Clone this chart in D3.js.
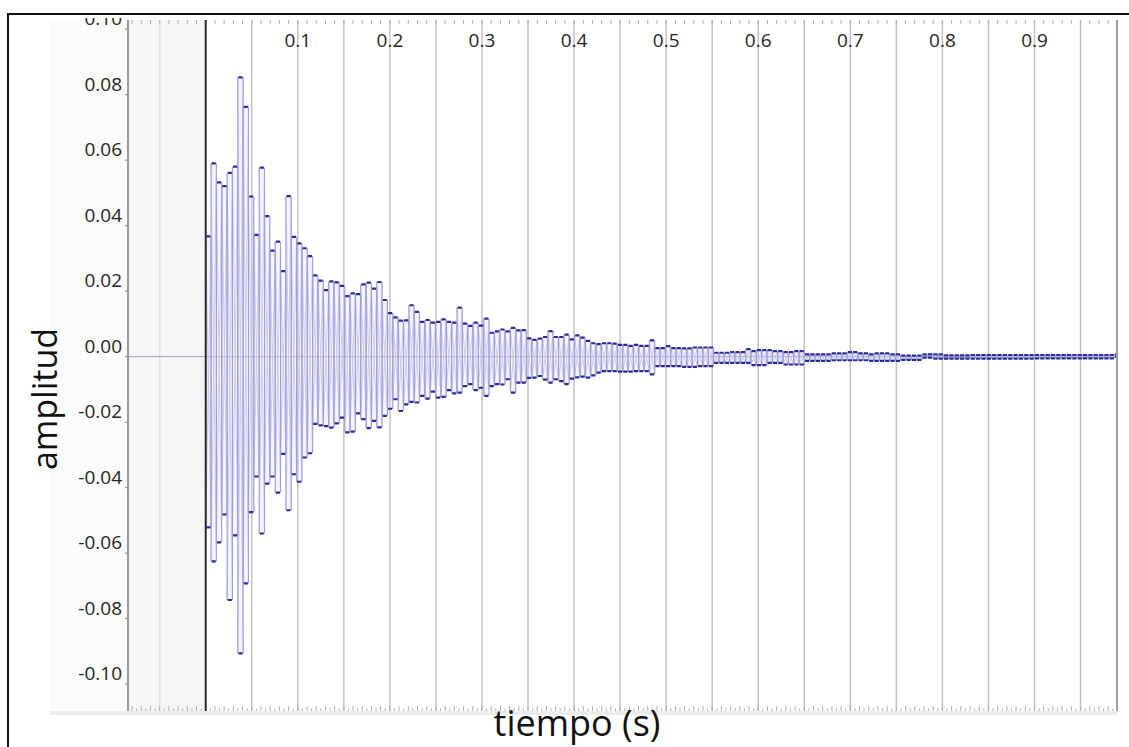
<!DOCTYPE html>
<html>
<head>
<meta charset="utf-8">
<script src="https://cdn.jsdelivr.net/npm/d3@7"></script>
<style>
  html, body { margin: 0; padding: 0; background: #fff; }
  svg { display: block; }
  text { font-family: "Open Sans", "Noto Sans", sans-serif; }
</style>
</head>
<body>
<svg id="chart" width="1129" height="747"></svg>
<script>
// Waveform summary: one bin = 256 samples at 44.1 kHz, max and min per bin.
const binDuration = 256 / 44100;

const binMax = [
  0.0367, 0.0590, 0.0532, 0.0521, 0.0561, 0.0580, 0.0853, 0.0763, 0.0489, 0.0372,
  0.0577, 0.0429, 0.0324, 0.0351, 0.0261, 0.0490, 0.0366, 0.0346, 0.0331, 0.0307,
  0.0248, 0.0232, 0.0203, 0.0230, 0.0227, 0.0216, 0.0185, 0.0193, 0.0191, 0.0221,
  0.0226, 0.0208, 0.0228, 0.0173, 0.0133, 0.0120, 0.0110, 0.0111, 0.0157, 0.0137,
  0.0106, 0.0112, 0.0104, 0.0106, 0.0114, 0.0106, 0.0104, 0.0150, 0.0101, 0.0094,
  0.0104, 0.0095, 0.0116, 0.0073, 0.0077, 0.0083, 0.0077, 0.0088, 0.0080, 0.0081,
  0.0056, 0.0051, 0.0055, 0.0060, 0.0078, 0.0060, 0.0060, 0.0067, 0.0053, 0.0065,
  0.0058, 0.0048, 0.0041, 0.0038, 0.0041, 0.0041, 0.0040, 0.0036, 0.0036, 0.0033,
  0.0036, 0.0033, 0.0033, 0.0050, 0.0026, 0.0026, 0.0032, 0.0026, 0.0026, 0.0025,
  0.0025, 0.0028, 0.0028, 0.0028, 0.0028, 0.0012, 0.0012, 0.0012, 0.0014, 0.0014,
  0.0014, 0.0023, 0.0017, 0.0020, 0.0020, 0.0020, 0.0017, 0.0017, 0.0014, 0.0014,
  0.0017, 0.0017, 0.0007, 0.0007, 0.0007, 0.0007, 0.0007, 0.0010, 0.0010, 0.0010,
  0.0014, 0.0014, 0.0010, 0.0010, 0.0007, 0.0010, 0.0010, 0.0010, 0.0007, 0.0007,
  0.0003, 0.0003, 0.0003, 0.0003, 0.0007, 0.0007, 0.0007, 0.0007, 0.0004, 0.0004,
  0.0004, 0.0004, 0.0004, 0.0005, 0.0005, 0.0005, 0.0005, 0.0005, 0.0005, 0.0005,
  0.0005, 0.0005, 0.0005, 0.0005, 0.0005, 0.0005, 0.0005, 0.0005, 0.0005, 0.0005,
  0.0005, 0.0005, 0.0005, 0.0005, 0.0005, 0.0005, 0.0005, 0.0005, 0.0005, 0.0005,
  0.0007
];

const binMin = [
  -0.0521, -0.0625, -0.0567, -0.0482, -0.0743, -0.0546, -0.0906, -0.0692, -0.0475, -0.0366,
  -0.0540, -0.0388, -0.0366, -0.0415, -0.0297, -0.0469, -0.0359, -0.0382, -0.0308, -0.0295,
  -0.0205, -0.0210, -0.0212, -0.0217, -0.0204, -0.0186, -0.0231, -0.0229, -0.0173, -0.0191,
  -0.0218, -0.0196, -0.0216, -0.0181, -0.0159, -0.0130, -0.0166, -0.0146, -0.0138, -0.0140,
  -0.0120, -0.0128, -0.0107, -0.0125, -0.0123, -0.0102, -0.0112, -0.0110, -0.0090, -0.0084,
  -0.0102, -0.0095, -0.0120, -0.0090, -0.0084, -0.0085, -0.0069, -0.0110, -0.0079, -0.0079,
  -0.0065, -0.0064, -0.0059, -0.0070, -0.0079, -0.0069, -0.0075, -0.0084, -0.0067, -0.0063,
  -0.0061, -0.0064, -0.0057, -0.0049, -0.0044, -0.0044, -0.0044, -0.0046, -0.0046, -0.0046,
  -0.0044, -0.0044, -0.0044, -0.0054, -0.0029, -0.0029, -0.0029, -0.0029, -0.0029, -0.0031,
  -0.0031, -0.0031, -0.0029, -0.0029, -0.0029, -0.0019, -0.0019, -0.0019, -0.0019, -0.0019,
  -0.0019, -0.0019, -0.0026, -0.0026, -0.0026, -0.0019, -0.0019, -0.0019, -0.0024, -0.0024,
  -0.0024, -0.0024, -0.0013, -0.0013, -0.0013, -0.0013, -0.0013, -0.0011, -0.0011, -0.0011,
  -0.0011, -0.0011, -0.0011, -0.0011, -0.0013, -0.0013, -0.0013, -0.0013, -0.0013, -0.0013,
  -0.0010, -0.0010, -0.0010, -0.0010, -0.0003, -0.0003, -0.0006, -0.0006, -0.0006, -0.0006,
  -0.0006, -0.0006, -0.0006, -0.0006, -0.0006, -0.0006, -0.0006, -0.0006, -0.0006, -0.0006,
  -0.0006, -0.0006, -0.0006, -0.0006, -0.0006, -0.0005, -0.0005, -0.0005, -0.0005, -0.0005,
  -0.0005, -0.0005, -0.0005, -0.0005, -0.0005, -0.0005, -0.0005, -0.0005, -0.0005, -0.0005,
  -0.0001
];

const amplitudeTicks = [-0.10, -0.08, -0.06, -0.04, -0.02, 0.00, 0.02, 0.04, 0.06, 0.08, 0.10];
const timeLabels = [0.1, 0.2, 0.3, 0.4, 0.5, 0.6, 0.7, 0.8, 0.9];

const bins = binMax.map((hi, i) => ({ t0: i * binDuration, t1: (i + 1) * binDuration, hi, lo: binMin[i] }));

const svg = d3.select("#chart");
const plot = { left: 128, right: 1117, top: 20, bottom: 711 };

const x = d3.scaleLinear().domain([-0.0844, 0.9896]).range([plot.left, plot.right]);
const y = d3.scaleLinear().domain([-0.1082, 0.1028]).range([plot.bottom, plot.top]);

// panel backgrounds
svg.append("rect").attr("x", 50).attr("y", plot.top).attr("width", plot.left - 50)
  .attr("height", plot.bottom - plot.top).attr("fill", "#fbfbfb");
svg.append("rect").attr("x", plot.left).attr("y", plot.top).attr("width", x(0) - plot.left)
  .attr("height", plot.bottom - plot.top).attr("fill", "#f6f6f6");
svg.append("rect").attr("x", 50).attr("y", plot.bottom).attr("width", plot.right - 50)
  .attr("height", 4).attr("fill", "#ececec");

const defs = svg.append("defs");
defs.append("clipPath").attr("id", "plotClip")
  .append("rect").attr("x", plot.left).attr("y", plot.top)
  .attr("width", plot.right - plot.left).attr("height", plot.bottom - plot.top);
defs.append("clipPath").attr("id", "labelClip")
  .append("rect").attr("x", 0).attr("y", 18).attr("width", 1129).attr("height", 729);

// vertical grid every 0.05 s
const gridTimes = d3.range(-1, 20).map(k => k * 0.05).filter(t => Math.abs(t) > 1e-9 && t < 0.98);
svg.append("g").selectAll("line").data(gridTimes).join("line")
  .attr("x1", d => x(d)).attr("x2", d => x(d))
  .attr("y1", plot.top).attr("y2", plot.bottom)
  .attr("stroke", d => d < 0 ? "#e0e0e0" : "#c2c2c2").attr("stroke-width", 1.5);

// minor ticks: top every 0.01, bottom every 0.005
const topTicks = d3.range(-8, 99).map(k => k / 100);
svg.append("g").selectAll("line").data(topTicks).join("line")
  .attr("x1", d => x(d)).attr("x2", d => x(d))
  .attr("y1", plot.top).attr("y2", plot.top + 4)
  .attr("stroke", "#b0b0b0").attr("stroke-width", 1);
const bottomTicks = d3.range(-16, 198).map(k => k / 200);
svg.append("g").selectAll("line").data(bottomTicks).join("line")
  .attr("x1", d => x(d)).attr("x2", d => x(d))
  .attr("y1", plot.bottom)
  .attr("y2", (d, i) => plot.bottom - ((i % 2 === 0) ? 5 : 2.5))
  .attr("stroke", "#b0b0b0").attr("stroke-width", 1);

// zero amplitude line
svg.append("line").attr("x1", plot.left).attr("x2", plot.right)
  .attr("y1", y(0)).attr("y2", y(0))
  .attr("stroke", "#9a9ad4").attr("stroke-width", 1);

// waveform bins: light body, crossing strokes inside, side strokes, dark max/min caps
const wave = svg.append("g").attr("clip-path", "url(#plotClip)");
wave.selectAll("rect.body").data(bins).join("rect").attr("class", "body")
  .attr("x", d => x(d.t0)).attr("width", d => x(d.t1) - x(d.t0))
  .attr("y", d => y(d.hi)).attr("height", d => y(d.lo) - y(d.hi))
  .attr("fill", "#dadaf3").attr("fill-opacity", 0.3);
wave.selectAll("path.cross").data(bins).join("path").attr("class", "cross")
  .attr("d", d => `M${x(d.t0)},${y(d.hi)}L${x(d.t1)},${y(d.lo)}M${x(d.t0)},${y(d.lo)}L${x(d.t1)},${y(d.hi)}`)
  .attr("fill", "none").attr("stroke", "#c3c3ea").attr("stroke-width", 0.8);
wave.selectAll("path.side").data(bins).join("path").attr("class", "side")
  .attr("d", d => `M${x(d.t0)},${y(d.hi)}V${y(d.lo)}M${x(d.t1)},${y(d.hi)}V${y(d.lo)}`)
  .attr("fill", "none").attr("stroke", "#9f9fda").attr("stroke-width", 1.1);
wave.selectAll("path.cap").data(bins).join("path").attr("class", "cap")
  .attr("d", d => `M${x(d.t0) + 0.6},${y(d.hi)}H${x(d.t1) - 0.6}M${x(d.t0) + 0.6},${y(d.lo)}H${x(d.t1) - 0.6}`)
  .attr("fill", "none").attr("stroke", "#2a2a92").attr("stroke-width", 2.2);

// time origin and end of track
svg.append("line").attr("x1", x(0)).attr("x2", x(0)).attr("y1", plot.top).attr("y2", plot.bottom)
  .attr("stroke", "#2b2b2b").attr("stroke-width", 2);
svg.append("line").attr("x1", plot.right).attr("x2", plot.right).attr("y1", plot.top).attr("y2", plot.bottom)
  .attr("stroke", "#9c9c9c").attr("stroke-width", 2);

// amplitude axis
svg.append("line").attr("x1", plot.left).attr("x2", plot.left).attr("y1", plot.top).attr("y2", plot.bottom)
  .attr("stroke", "#9a9a9a").attr("stroke-width", 2);
const yAxis = svg.append("g").attr("clip-path", "url(#labelClip)");
yAxis.selectAll("line").data(amplitudeTicks).join("line")
  .attr("x1", plot.left - 3).attr("x2", plot.left).attr("y1", d => y(d)).attr("y2", d => y(d))
  .attr("stroke", "#888").attr("stroke-width", 1);
yAxis.selectAll("text").data(amplitudeTicks).join("text")
  .attr("x", plot.left - 6).attr("y", d => y(d) - 4)
  .attr("text-anchor", "end").attr("font-size", 19).attr("fill", "#262626")
  .text(d => d.toFixed(2));

// time labels along the top
svg.append("g").selectAll("text").data(timeLabels).join("text")
  .attr("x", d => x(d)).attr("y", 47)
  .attr("text-anchor", "middle").attr("font-size", 19).attr("fill", "#262626")
  .text(d => d.toFixed(1));

// axis titles
svg.append("text").attr("transform", "translate(57,399) rotate(-90)")
  .attr("text-anchor", "middle").attr("font-size", 34).attr("fill", "#111")
  .text("amplitud");
svg.append("text").attr("x", 577).attr("y", 736)
  .attr("text-anchor", "middle").attr("font-size", 36).attr("fill", "#111")
  .text("tiempo (s)");

// outer frame
svg.append("path").attr("d", "M8,747V14H1129").attr("fill", "none")
  .attr("stroke", "#111").attr("stroke-width", 2);
</script>
</body>
</html>
